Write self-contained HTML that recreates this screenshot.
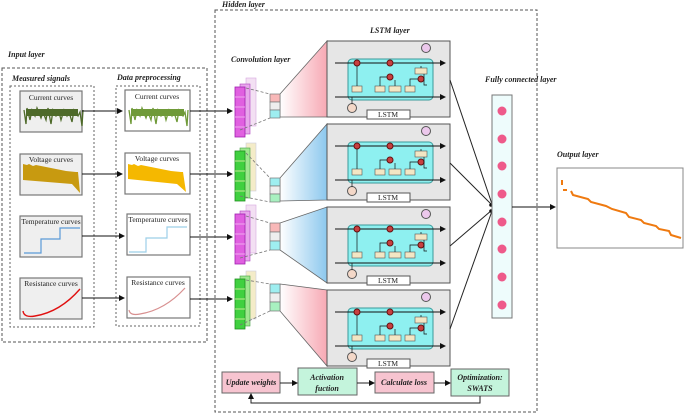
<!DOCTYPE html>
<html><head><meta charset="utf-8"><style>
body{margin:0;background:#fff;}
svg{display:block;font-family:"Liberation Serif",serif;}
.it{font-style:italic;font-weight:bold;font-size:8px;fill:#222;}
.pt{font-size:7.5px;fill:#222;}
</style></head><body>
<svg width="685" height="415" viewBox="0 0 685 415" xmlns="http://www.w3.org/2000/svg">
<defs>
<marker id="ah" markerWidth="6" markerHeight="6" refX="5" refY="3" orient="auto"><path d="M0,0 L6,3 L0,6 z" fill="#111"/></marker>
<linearGradient id="gp" x1="0" x2="1"><stop offset="0" stop-color="#fff"/><stop offset="1" stop-color="#f7a9b4"/></linearGradient>
<linearGradient id="gb" x1="0" x2="1"><stop offset="0" stop-color="#fff"/><stop offset="1" stop-color="#8cc8ee"/></linearGradient>
<g id="cell">
<rect x="0" y="0" width="123" height="76" fill="#e6e6e6" stroke="#555" stroke-width="1"/>
<rect x="21" y="18" width="85" height="41" rx="4" fill="#8ef0f0" stroke="#3a9a9a"/>
<line x1="8" y1="22" x2="118" y2="22" stroke="#111" marker-end="url(#ah)"/>
<line x1="8" y1="56" x2="118" y2="56" stroke="#111" marker-end="url(#ah)"/>
<circle cx="30" cy="22" r="3" fill="#c84040" stroke="#611"/>
<circle cx="63" cy="22" r="3" fill="#c84040" stroke="#611"/>
<circle cx="63" cy="36" r="3" fill="#c84040" stroke="#611"/>
<circle cx="94" cy="38" r="3" fill="#c84040" stroke="#611"/>
<rect x="25" y="45" width="10" height="6" fill="#f3e6c4" stroke="#555" stroke-width=".6"/>
<rect x="48" y="45" width="10" height="6" fill="#f3e6c4" stroke="#555" stroke-width=".6"/>
<rect x="62" y="45" width="12" height="6" fill="#f3e6c4" stroke="#555" stroke-width=".6"/>
<rect x="78" y="45" width="10" height="6" fill="#f3e6c4" stroke="#555" stroke-width=".6"/>
<rect x="88" y="27" width="12" height="6" fill="#f3e6c4" stroke="#555" stroke-width=".6"/>
<path d="M30,45V25 M53,45V36H60 M68,45V39 M83,45V38H91 M97,33V44H100 M94,27V25" stroke="#111" stroke-width=".7" fill="none"/>
<circle cx="99" cy="7" r="4.5" fill="#ecc8ec" stroke="#555"/>
<circle cx="25" cy="67" r="4.5" fill="#f4d8c8" stroke="#555"/>
<line x1="25" y1="63" x2="25" y2="56" stroke="#111" stroke-width=".7"/>
<rect x="40" y="69" width="43" height="9" fill="#fff" stroke="#555"/>
</g>
</defs>

<text x="8" y="57" class="it" font-size="9">Input layer</text>
<rect x="2" y="68" width="205" height="274" fill="none" stroke="#555" stroke-dasharray="3,2"/>
<text x="12" y="81" class="it">Measured signals</text>
<text x="117" y="80" class="it">Data preprocessing</text>
<rect x="10" y="86" width="84" height="241" fill="none" stroke="#666" stroke-dasharray="2,2"/>
<rect x="116" y="86" width="84" height="240" fill="none" stroke="#666" stroke-dasharray="2,2"/>

<g stroke="#777" stroke-width="1.2">
<rect x="20" y="91" width="62" height="41" fill="#efefef"/>
<rect x="20" y="154" width="62" height="41" fill="#efefef"/>
<rect x="20" y="216" width="62" height="41" fill="#efefef"/>
<rect x="20" y="278" width="62" height="41" fill="#efefef"/>
<rect x="125" y="90" width="65" height="41" fill="#fff"/>
<rect x="125" y="153" width="65" height="41" fill="#fff"/>
<rect x="127" y="214" width="63" height="41" fill="#fff"/>
<rect x="127" y="277" width="63" height="41" fill="#fff"/>
</g>
<text x="51" y="100" class="pt" text-anchor="middle">Current curves</text>
<text x="51" y="162" class="pt" text-anchor="middle">Voltage curves</text>
<text x="51" y="224" class="pt" text-anchor="middle">Temperature curves</text>
<text x="51" y="286" class="pt" text-anchor="middle">Resistance curves</text>
<text x="157" y="99" class="pt" text-anchor="middle">Current curves</text>
<text x="157" y="161" class="pt" text-anchor="middle">Voltage curves</text>
<text x="158" y="222" class="pt" text-anchor="middle">Temperature curves</text>
<text x="158" y="285" class="pt" text-anchor="middle">Resistance curves</text>
<path d="M24,110 l2,14 l1,-16 l3,12 l2,-10 l3,6 l2,-8 l4,10 l2,-6 l3,8 l2,-12 l3,16 l2,-14 l3,6 l3,-4 l2,8 l3,-10 l3,6 l2,-4 l3,10 l2,-12 l4,6 l2,-4 l2,14 l1,-16" stroke="#4e6a2a" stroke-width="1.3" fill="none"/>
<path d="M26,109 h52 v7 h-52z" fill="#4e6a2a"/>
<path d="M129,110 l2,14 l1,-16 l3,12 l2,-10 l3,6 l2,-8 l4,10 l2,-6 l3,8 l2,-12 l3,16 l2,-14 l3,6 l3,-4 l2,8 l3,-10 l3,6 l2,-4 l3,10 l2,-12 l4,6 l2,-4 l2,14 l1,-16" stroke="#6f9a38" stroke-width="1.3" fill="none"/>
<path d="M131,109 h53 v7 h-53z" fill="#6f9a38"/>
<path d="M23,164 l4,1 l2,-1 l4,2 l3,-1 l10,2 l10,2 l10,2 l10,1 L78,172 L80,193 L72,184 L23,180z" fill="#c89a10"/>
<path d="M128,164 l4,1 l2,-1 l4,2 l3,-1 l10,2 l10,2 l10,2 l10,1 L183,172 L186,192 L177,184 L128,179z" fill="#f5b800"/>
<path d="M24,253 H41 V239 H60 V228 H80" stroke="#5a9ad8" stroke-width="1.2" fill="none"/>
<path d="M129,252 H146 V238 H167 V227 H187" stroke="#9ccfe8" stroke-width="1.2" fill="none"/>
<path d="M23,311 Q24,318 35,316 Q60,312 80,289" stroke="#e01010" stroke-width="1.4" fill="none"/>
<path d="M129,310 Q130,316 140,314 Q165,310 185,288" stroke="#d89090" stroke-width="1.2" fill="none"/>
<g stroke="#111" marker-end="url(#ah)">
<line x1="82" y1="111" x2="122" y2="111"/>
<line x1="82" y1="174" x2="122" y2="174"/>
<line x1="82" y1="236" x2="124" y2="236"/>
<line x1="82" y1="298" x2="124" y2="298"/>
<line x1="190" y1="111" x2="232" y2="111"/>
<line x1="190" y1="174" x2="232" y2="174"/>
<line x1="190" y1="237" x2="232" y2="237"/>
<line x1="190" y1="299" x2="232" y2="299"/>
</g>

<text x="222" y="7" class="it" font-size="9">Hidden layer</text>
<rect x="215" y="10" width="322" height="402" fill="none" stroke="#555" stroke-dasharray="3,2"/>
<text x="231" y="62" class="it">Convolution layer</text>
<text x="370" y="33" class="it">LSTM layer</text>

<g id="cm">
<rect x="246" y="78" width="10" height="48" fill="#f3e0f3" stroke="#d8a8e0" stroke-width=".6"/>
<rect x="240" y="84" width="10" height="50" fill="#e8a8ec" stroke="#b040c0" stroke-width=".6"/>
<rect x="235" y="87" width="10" height="50" fill="#e060e0" stroke="#a020b0" stroke-width=".8"/>
<path d="M235,97h10M235,107h10M235,117h10M235,127h10" stroke="#f4c0f4" stroke-width=".8"/>
</g>
<g id="cg">
<rect x="246" y="143" width="10" height="48" fill="#f4ecc8" stroke="#ccd" stroke-width=".6"/>
<rect x="240" y="148" width="10" height="50" fill="#a0e890" stroke="#40a040" stroke-width=".6"/>
<rect x="235" y="151" width="10" height="50" fill="#40d040" stroke="#209020" stroke-width=".8"/>
<path d="M235,161h10M235,171h10M235,181h10M235,191h10" stroke="#f0f0b0" stroke-width=".8"/>
</g>
<use href="#cm" y="127"/>
<use href="#cg" y="128"/>

<path d="M280,94 L327,41 L327,117 L280,117z" fill="url(#gp)" stroke="#666" stroke-width=".8"/>
<path d="M280,178 L327,124 L327,200 L280,201z" fill="url(#gb)" stroke="#666" stroke-width=".8"/>
<path d="M280,223 L327,207 L327,283 L280,250z" fill="url(#gb)" stroke="#666" stroke-width=".8"/>
<path d="M280,284 L327,290 L327,366 L280,311z" fill="url(#gp)" stroke="#666" stroke-width=".8"/>
<g stroke="#777" stroke-width=".7">
<rect x="270" y="94" width="10" height="8" fill="#f8b8b8"/><rect x="270" y="102" width="10" height="8" fill="#eee"/><rect x="270" y="110" width="10" height="8" fill="#9eeef0"/>
<rect x="270" y="178" width="10" height="8" fill="#9eeef0"/><rect x="270" y="186" width="10" height="8" fill="#eee"/><rect x="270" y="194" width="10" height="8" fill="#a8f0c0"/>
<rect x="270" y="223" width="10" height="9" fill="#f8b8b8"/><rect x="270" y="232" width="10" height="9" fill="#eee"/><rect x="270" y="241" width="10" height="9" fill="#9eeef0"/>
<rect x="270" y="284" width="10" height="9" fill="#9eeef0"/><rect x="270" y="293" width="10" height="9" fill="#eee"/><rect x="270" y="302" width="10" height="9" fill="#a8f0c0"/>
</g>
<g stroke="#777" stroke-dasharray="3,2" stroke-width=".8">
<line x1="246" y1="88" x2="270" y2="94"/><line x1="240" y1="130" x2="270" y2="118"/>
<line x1="246" y1="153" x2="270" y2="178"/><line x1="240" y1="196" x2="270" y2="202"/>
<line x1="246" y1="216" x2="270" y2="223"/><line x1="240" y1="258" x2="270" y2="250"/>
<line x1="246" y1="280" x2="270" y2="284"/><line x1="240" y1="325" x2="270" y2="311"/>
</g>

<use href="#cell" x="327" y="41"/>
<use href="#cell" x="327" y="124"/>
<use href="#cell" x="327" y="207"/>
<use href="#cell" x="327" y="290"/>
<text x="388" y="117" class="pt" text-anchor="middle" font-size="7">LSTM</text>
<text x="388" y="200" class="pt" text-anchor="middle" font-size="7">LSTM</text>
<text x="388" y="283" class="pt" text-anchor="middle" font-size="7">LSTM</text>
<text x="388" y="366" class="pt" text-anchor="middle" font-size="7">LSTM</text>

<g stroke="#222" stroke-width="1">
<line x1="450" y1="80" x2="492" y2="204"/>
<line x1="450" y1="163" x2="492" y2="205"/>
<line x1="450" y1="246" x2="492" y2="210"/>
<line x1="450" y1="329" x2="492" y2="211"/>
</g>
<circle cx="491" cy="205" r="1.8" fill="#111"/><circle cx="491" cy="211" r="1.8" fill="#111"/>
<text x="485" y="82" class="it">Fully connected layer</text>
<rect x="492" y="95" width="20" height="223" fill="#eefcfc" stroke="#777"/>
<g fill="#ee5a8a">
<circle cx="502" cy="111" r="4.5"/><circle cx="502" cy="139" r="4.5"/><circle cx="502" cy="166" r="4.5"/><circle cx="502" cy="194" r="4.5"/>
<circle cx="502" cy="222" r="4.5"/><circle cx="502" cy="249" r="4.5"/><circle cx="502" cy="277" r="4.5"/><circle cx="502" cy="305" r="4.5"/>
</g>
<line x1="512" y1="207" x2="555" y2="207" stroke="#111" marker-end="url(#ah)"/>

<text x="557" y="157" class="it">Output layer</text>
<rect x="557" y="168" width="126" height="80" fill="#fff" stroke="#888"/>
<path d="M562,180 v5 M563,190 h4 M571,191 l2,4 l15,4 l3,3 l15,4 l6,3 l14,4 l3,4 l12,3 l3,3 l12,3 l3,3 l10,2 l2,4 l10,3" stroke="#ef7a10" stroke-width="2" fill="none"/>

<g stroke="#666">
<rect x="222" y="372" width="58" height="21" fill="#f7c4d0"/>
<rect x="298" y="368" width="59" height="27" fill="#c4f4dc"/>
<rect x="375" y="372" width="59" height="21" fill="#f7c4d0"/>
<rect x="451" y="369" width="58" height="27" fill="#c4f4dc"/>
</g>
<text x="251" y="385" class="it" text-anchor="middle">Update weights</text>
<text x="327" y="380" class="it" text-anchor="middle">Activation</text>
<text x="327" y="391" class="it" text-anchor="middle">fuction</text>
<text x="404" y="385" class="it" text-anchor="middle">Calculate loss</text>
<text x="480" y="380" class="it" text-anchor="middle">Optimization:</text>
<text x="480" y="391" class="it" text-anchor="middle">SWATS</text>
<g stroke="#222" marker-end="url(#ah)">
<line x1="280" y1="383" x2="297" y2="383"/>
<line x1="357" y1="383" x2="374" y2="383"/>
<line x1="434" y1="383" x2="450" y2="383"/>
<path d="M480,396 V403 H251 V394" fill="none"/>
</g>
</svg>
</body></html>
